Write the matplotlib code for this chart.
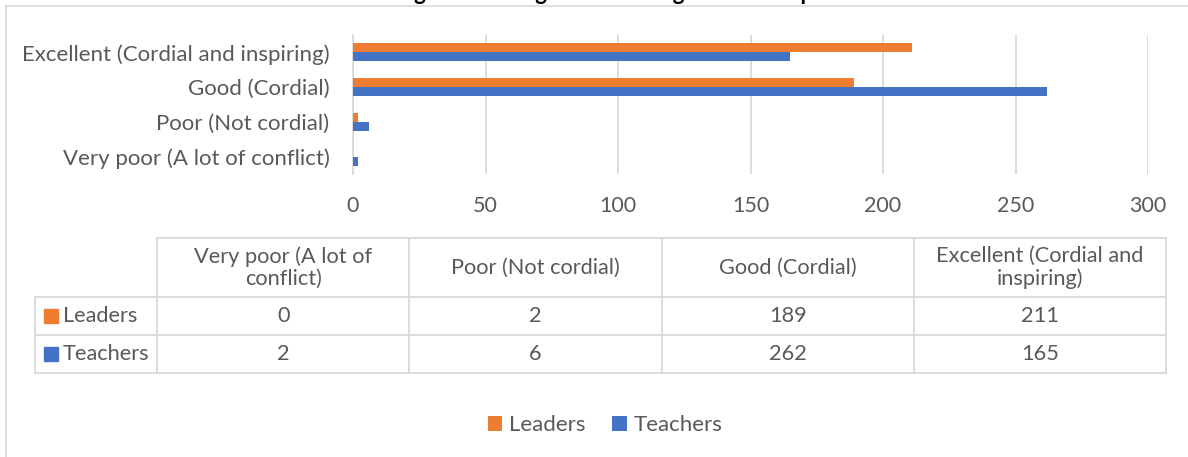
import matplotlib.pyplot as plt
import numpy as np

# data
categories = ['Very poor (A lot of conflict)', 'Poor (Not cordial)',
              'Good (Cordial)', 'Excellent (Cordial and inspiring)']
table_headers = ['Very poor (A lot of\nconflict)', 'Poor (Not cordial)',
                 'Good (Cordial)', 'Excellent (Cordial and\ninspiring)']
leaders = [0, 2, 189, 211]
teachers = [2, 6, 262, 165]
series_names = ['Leaders', 'Teachers']
x_ticks = [0, 50, 100, 150, 200, 250, 300]
title = 'Rating the Leading and Teaching Relationship'

ORANGE = '#ED7D31'
BLUE = '#4472C4'
GREY = '#595959'
LINE = '#D9D9D9'

plt.rcParams['font.family'] = ['Lato', 'DejaVu Sans']

W, H = 1188, 457
fig = plt.figure(figsize=(W / 100, H / 100), dpi=100)

# background layer in pixel coordinates for the frame and data table
ov = fig.add_axes([0, 0, 1, 1], zorder=-1)
ov.set_xlim(0, W)
ov.set_ylim(H, 0)
ov.axis('off')

# chart frame (only top and left visible in the crop)
ov.plot([6, 6], [6, H], color=LINE, lw=1.2)
ov.plot([6, W], [6, 6], color=LINE, lw=1.2)

# title mostly cut off above the frame, as in the reference crop
fig.text(588 / W, 1 - 0.5 / H, title, ha='center', va='baseline',
         fontsize=16, fontweight='bold', color='black')

# bar chart
ax = fig.add_axes([353 / W, 1 - 174 / H, (1148 - 353) / W, (174 - 35) / H])
y = np.arange(len(categories))
h = 0.26
bars_l = ax.barh(y + h / 2, leaders, height=h, color=ORANGE, label=series_names[0], zorder=3)
bars_t = ax.barh(y - h / 2, teachers, height=h, color=BLUE, label=series_names[1], zorder=3)
ax.set_xlim(0, 300)
ax.set_ylim(-0.5, len(categories) - 0.5)
ax.set_xticks(x_ticks)
ax.set_yticks(y)
ax.set_yticklabels(categories)
ax.tick_params(axis='y', length=0, pad=17, labelsize=16, labelcolor=GREY)
ax.tick_params(axis='x', length=0, pad=16, labelsize=15.5, labelcolor=GREY)
ax.grid(axis='x', color=LINE, lw=1.3, zorder=0)
for s in ['top', 'right', 'bottom']:
    ax.spines[s].set_visible(False)
ax.spines['left'].set_color(LINE)
ax.spines['left'].set_linewidth(1.3)
ax.set_facecolor('none')

# data table under the chart
col_x = [157 + 252.25 * i for i in range(len(categories) + 1)]
row_y = [238, 297, 335, 373]
left_x = 35
tl = dict(color=LINE, lw=1.3)
ov.plot([col_x[0], col_x[-1]], [row_y[0], row_y[0]], **tl)
for ry in row_y[1:]:
    ov.plot([left_x, col_x[-1]], [ry, ry], **tl)
ov.plot([left_x, left_x], [row_y[1], row_y[-1]], **tl)
for cx in col_x:
    ov.plot([cx, cx], [row_y[0], row_y[-1]], **tl)

for i, head in enumerate(table_headers):
    cx = (col_x[i] + col_x[i + 1]) / 2
    ov.text(cx, (row_y[0] + row_y[1]) / 2, head, ha='center', va='center',
            fontsize=15.7, color=GREY, linespacing=1.15)

for r, (name, vals, col) in enumerate(zip(series_names, [leaders, teachers], [ORANGE, BLUE])):
    cy = (row_y[r + 1] + row_y[r + 2]) / 2
    ov.add_patch(plt.Rectangle((44, cy - 7), 14, 14, color=col))
    ov.text(63, cy, name, ha='left', va='center', fontsize=15.7, color=GREY)
    for i, v in enumerate(vals):
        cx = (col_x[i] + col_x[i + 1]) / 2
        ov.text(cx, cy, str(v), ha='center', va='center', fontsize=15.7, color=GREY)

# legend
fig.legend(handles=[bars_l, bars_t], labels=series_names, loc='center',
           bbox_to_anchor=(605 / W, 1 - 425 / H), ncol=2, frameon=False,
           fontsize=16, labelcolor=GREY, handlelength=0.65, handleheight=0.65,
           handletextpad=0.3, columnspacing=1.2)

fig.savefig('out.png', dpi=100)
